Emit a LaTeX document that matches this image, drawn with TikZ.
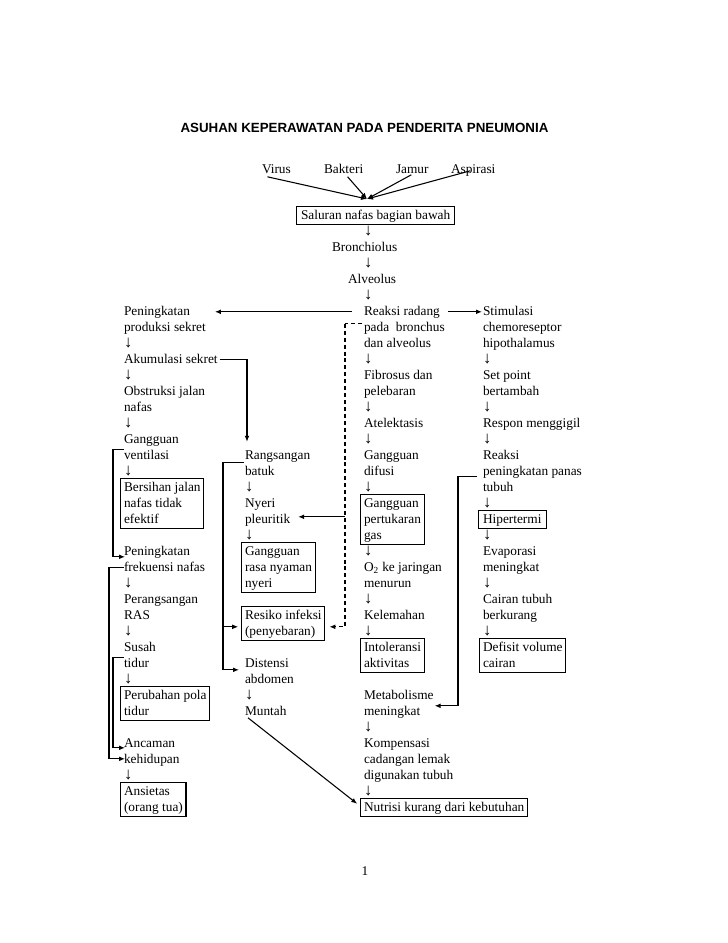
\documentclass[tikz,border=0pt]{standalone}
\usepackage{fontspec}
\setmainfont{Liberation Serif}
\newfontfamily\titlefont{Liberation Sans}
\usetikzlibrary{arrows.meta,calc,fit}
\newcommand\mkline[4]{\node[txt] (#1) at (#2,{315+16*(#3)}) {#4};}
\newcommand\dnarr{{\fontsize{12.5}{12}\selectfont ↓}}
\begin{document}
\begin{tikzpicture}[x=0.75pt,y=-0.75pt,
  font=\fontsize{10}{12}\selectfont,
  txt/.style={inner sep=0pt, outer sep=0pt, anchor=base west, execute at begin node=\strut},
  box/.style={draw, line width=0.9pt, inner xsep=2.4pt, inner ysep=0.75pt},
  arr/.style={line width=0.8pt, -{Latex[length=4.5pt,width=3.6pt]}},
  ln/.style={line width=0.8pt},
  dsh/.style={dash pattern=on 3pt off 2.2pt}]
\fill[white] (0,0) rectangle (728,943);
\useasboundingbox (0,0) rectangle (728,943);

% title
\node[inner sep=0pt, anchor=base, font=\titlefont\bfseries\fontsize{10}{12}\selectfont] (title) at (364.5,132) {ASUHAN KEPERAWATAN PADA PENDERITA PNEUMONIA};

% causes
\node[txt] (virus) at (262,173) {Virus};
\node[txt] (bakteri) at (324,173) {Bakteri};
\node[txt] (jamur) at (396,173) {Jamur};
\node[txt] (aspirasi) at (451,173) {Aspirasi};
\coordinate (conv) at (367,199);

% top chain
\mkline{sal1}{301}{-6}{Saluran nafas bagian bawah}
\mkline{d0a}{364}{-5}{\dnarr}
\mkline{bro}{332}{-4}{Bronchiolus}
\mkline{d0b}{364}{-3}{\dnarr}
\mkline{alv}{348}{-2}{Alveolus}
\mkline{d0c}{364}{-1}{\dnarr}

% column 1
\mkline{pa}{124}{0}{Peningkatan}
\mkline{pb}{124}{1}{produksi sekret}
\mkline{d1a}{124}{2}{\dnarr}
\mkline{ak}{124}{3}{Akumulasi sekret}
\mkline{d1b}{124}{4}{\dnarr}
\mkline{oba}{124}{5}{Obstruksi jalan}
\mkline{obb}{124}{6}{nafas}
\mkline{d1c}{124}{7}{\dnarr}
\mkline{gva}{124}{8}{Gangguan}
\mkline{gvb}{124}{9}{ventilasi}
\mkline{d1d}{124}{10}{\dnarr}
\mkline{bja}{124}{11}{Bersihan jalan}
\mkline{bjb}{124}{12}{nafas tidak}
\mkline{bjc}{124}{13}{efektif}
\mkline{pfa}{124}{15}{Peningkatan}
\mkline{pfb}{124}{16}{frekuensi nafas}
\mkline{d1e}{124}{17}{\dnarr}
\mkline{pra}{124}{18}{Perangsangan}
\mkline{prb}{124}{19}{RAS}
\mkline{d1f}{124}{20}{\dnarr}
\mkline{sta}{124}{21}{Susah}
\mkline{stb}{124}{22}{tidur}
\mkline{d1g}{124}{23}{\dnarr}
\mkline{ppa}{124}{24}{Perubahan pola}
\mkline{ppb}{124}{25}{tidur}
\mkline{aka}{124}{27}{Ancaman}
\mkline{akb}{124}{28}{kehidupan}
\mkline{d1h}{124}{29}{\dnarr}
\mkline{ansa}{124}{30}{Ansietas}
\mkline{ansb}{124}{31}{(orang tua)}

% column 2
\mkline{rba}{245}{9}{Rangsangan}
\mkline{rbb}{245}{10}{batuk}
\mkline{d2a}{245}{11}{\dnarr}
\mkline{nya}{245}{12}{Nyeri}
\mkline{nyb}{245}{13}{pleuritik}
\mkline{d2b}{245}{14}{\dnarr}
\mkline{gra}{245}{15}{Gangguan}
\mkline{grb}{245}{16}{rasa nyaman}
\mkline{grc}{245}{17}{nyeri}
\mkline{ria}{245}{19}{Resiko infeksi}
\mkline{rib}{245}{20}{(penyebaran)}
\mkline{dia}{245}{22}{Distensi}
\mkline{dib}{245}{23}{abdomen}
\mkline{d2c}{245}{24}{\dnarr}
\mkline{mun}{245}{25}{Muntah}

% column 3
\mkline{rr}{364}{0}{Reaksi radang}
\mkline{pdb}{364}{1}{pada\ \ bronchus}
\mkline{dal}{364}{2}{dan alveolus}
\mkline{d3a}{364}{3}{\dnarr}
\mkline{fba}{364}{4}{Fibrosus dan}
\mkline{fbb}{364}{5}{pelebaran}
\mkline{d3b}{364}{6}{\dnarr}
\mkline{ate}{364}{7}{Atelektasis}
\mkline{d3c}{364}{8}{\dnarr}
\mkline{gda}{364}{9}{Gangguan}
\mkline{gdb}{364}{10}{difusi}
\mkline{d3d}{364}{11}{\dnarr}
\mkline{gpa}{364}{12}{Gangguan}
\mkline{gpb}{364}{13}{pertukaran}
\mkline{gpc}{364}{14}{gas}
\mkline{d3e}{364}{15}{\dnarr}
\mkline{oja}{364}{16}{O\textsubscript{2} ke jaringan}
\mkline{ojb}{364}{17}{menurun}
\mkline{d3f}{364}{18}{\dnarr}
\mkline{kel}{364}{19}{Kelemahan}
\mkline{d3g}{364}{20}{\dnarr}
\mkline{ila}{364}{21}{Intoleransi}
\mkline{ilb}{364}{22}{aktivitas}
\mkline{met}{364}{24}{Metabolisme}
\mkline{mea}{364}{25}{meningkat}
\mkline{d3h}{364}{26}{\dnarr}
\mkline{koa}{364}{27}{Kompensasi}
\mkline{kob}{364}{28}{cadangan lemak}
\mkline{koc}{364}{29}{digunakan tubuh}
\mkline{d3i}{364}{30}{\dnarr}
\mkline{nut1}{364}{31}{Nutrisi kurang dari kebutuhan}

% column 4
\mkline{sti}{483}{0}{Stimulasi}
\mkline{chm}{483}{1}{chemoreseptor}
\mkline{hip}{483}{2}{hipothalamus}
\mkline{d4a}{483}{3}{\dnarr}
\mkline{spa}{483}{4}{Set point}
\mkline{spb}{483}{5}{bertambah}
\mkline{d4b}{483}{6}{\dnarr}
\mkline{rm}{483}{7}{Respon menggigil}
\mkline{d4c}{483}{8}{\dnarr}
\mkline{r4a}{483}{9}{Reaksi}
\mkline{r4b}{483}{10}{peningkatan panas}
\mkline{r4c}{483}{11}{tubuh}
\mkline{d4d}{483}{12}{\dnarr}
\mkline{hpt}{483}{13}{Hipertermi}
\mkline{d4e}{483}{14}{\dnarr}
\mkline{eva}{483}{15}{Evaporasi}
\mkline{evb}{483}{16}{meningkat}
\mkline{d4f}{483}{17}{\dnarr}
\mkline{cta}{483}{18}{Cairan tubuh}
\mkline{ctb}{483}{19}{berkurang}
\mkline{d4g}{483}{20}{\dnarr}
\mkline{dva}{483}{21}{Defisit volume}
\mkline{dvb}{483}{22}{cairan}

% page number
\node[inner sep=0pt, anchor=base] (pg) at (365,875) {1};

% boxes
\node[box, inner xsep=3.2pt, fit=(sal1)] (sal) {};
\node[box, fit=(bja)(bjb)(bjc)] (bj) {};
\node[box, fit=(ppa)(ppb)] (pp) {};
\node[box, fit=(ansa)(ansb)] (ans) {};
\node[box, fit=(gra)(grb)(grc)] (gr) {};
\node[box, fit=(ria)(rib)] (ri) {};
\node[box, fit=(gpa)(gpb)(gpc)] (gp) {};
\node[box, fit=(ila)(ilb)] (il) {};
\node[box, fit=(nut1)] (nut) {};
\node[box, inner xsep=3.5pt, fit=(hpt)] (hp) {};
\node[box, fit=(dva)(dvb)] (dv) {};

% causes -> saluran
\draw[arr] ($(virus.south)+(-9,-1)$) -- (conv);
\draw[arr] ($(bakteri.south)+(4,-1)$) -- (conv);
\draw[arr] ($(jamur.south)+(-1,-3)$) -- (conv);
\draw[arr] ($(aspirasi.south)+(-3,-7)$) -- (conv);

% reaksi radang -> left and right
\draw[arr] ($(rr.west)+(-12,0)$) -- ($(pa.east)+(25,0)$);
\draw[arr] ($(rr.east)+(8,0)$) -- ($(sti.west)+(-1,0)$);

% dashed branch
\coordinate (dtop) at ($(pdb.west)+(-19,-4)$);
\draw[ln,dsh] ($(pdb.west)+(-2,-4)$) -- (dtop);
\draw[arr,dsh] (dtop) |- ($(ri.east)+(4,3)$);
\draw[arr] ($(dtop |- nyb.east)+(0,-3)$) -- ($(nyb.east)+(8,-3)$);

% akumulasi -> rangsangan
\draw[arr] ($(ak.east)+(2,0)$) -| ($(rba.north west)+(2,-6)$);

% left brackets
\draw[arr] ($(gvb.north west)+(0,2)$) -- ++(-11,0) |- ($(pfa.west)+(1,5)$);
\draw[arr] (pfb.west) -- ++(-15,0) |- ($(akb.west)+(1,-1)$);
\draw[arr] ($(stb.north west)+(0,2)$) -- ++(-11,0) |- ($(aka.west)+(1,4)$);

% rangsangan bracket
\coordinate (rbl) at ($(rba.west)+(-22,7)$);
\draw[ln] ($(rba.west)+(-1,7)$) -- (rbl) -- ($(rbl |- dia.west)+(0,6)$);
\draw[arr] ($(rbl |- ri.west)+(0,3)$) -- ($(ri.west)+(-3,3)$);
\draw[arr] ($(rbl |- dia.west)+(0,6)$) -- ($(dia.west)+(-6,6)$);

% reaksi panas -> metabolisme
\draw[arr] ($(r4b.west)+(-6,5)$) -- ++(-19,0) |- ($(met.east)+(1,10)$);

% muntah -> nutrisi
\draw[arr] ($(mun.south west)+(3,-2)$) -- ($(nut.west)+(-3,-4)$);
\end{tikzpicture}
\end{document}
